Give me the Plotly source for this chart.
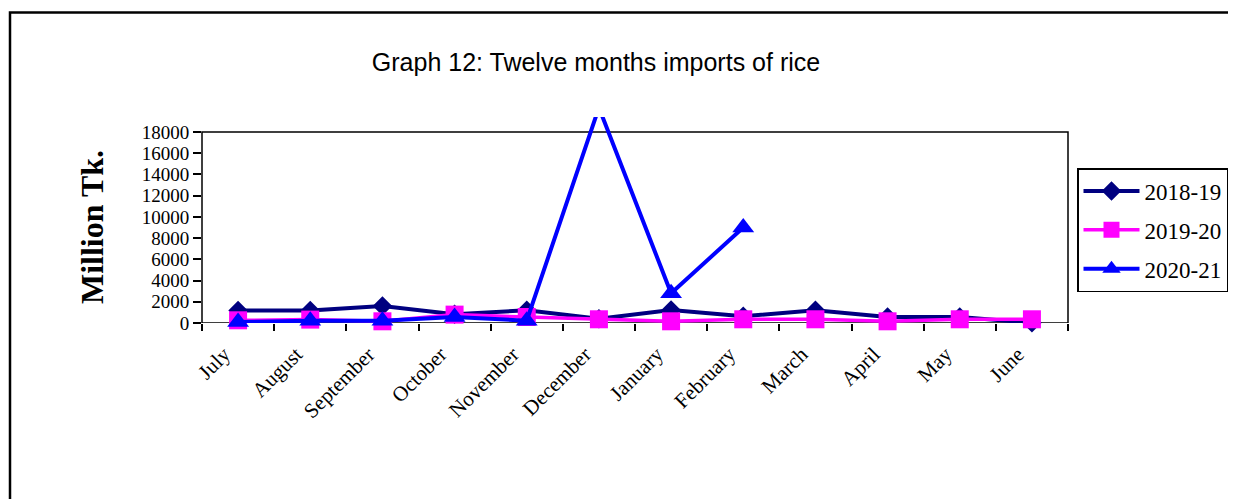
import plotly.graph_objects as go

months = ["July", "August", "September", "October", "November", "December",
          "January", "February", "March", "April", "May", "June"]
y2018_19 = [1170, 1170, 1600, 820, 1200, 410, 1220, 630, 1200, 570, 570, 20]
y2019_20 = [254, 320, 160, 790, 565, 350, 160, 350, 350, 160, 350, 350]
y2020_21 = [95, 220, 220, 565, 220, 20300, 2800, 9000, None, None, None, None]
yticks = [0, 2000, 4000, 6000, 8000, 10000, 12000, 14000, 16000, 18000]
ytick_text = ["0", "2000", "4000", "6000", "8000", "10000", "12000", "14000", "16000", "18000"]
series_names = ["2018-19", "2019-20", "2020-21"]

OFF = 8  # page body margin offset
W, H = 1236, 499
L, R, T, B = 202 - OFF, 168 + OFF, 117 - OFF, 176 + OFF
pw, ph = W - L - R, H - T - B
YMAX = 18000 * ph / 191.0

def px_x(x):
    return (x - OFF - L) / pw

def px_y(y):
    return (H - B - (y - OFF)) / ph

fig = go.Figure()
fig.add_trace(go.Scatter(
    x=months, y=y2018_19, name=series_names[0], mode="lines+markers",
    line=dict(color="#000080", width=4),
    marker=dict(symbol="diamond", size=15, color="#000080"),
    cliponaxis=False, legendgroup="a"))
fig.add_trace(go.Scatter(
    x=months, y=y2019_20, name=series_names[1], mode="lines+markers",
    line=dict(color="#FF00FF", width=3.5),
    marker=dict(symbol="square", size=18, color="#FF00FF"),
    cliponaxis=False, legendgroup="b"))
fig.add_trace(go.Scatter(
    x=months, y=y2020_21, name=series_names[2], mode="lines+markers",
    line=dict(color="#0000FF", width=4),
    marker=dict(symbol="triangle-up", size=19, color="#0000FF"),
    cliponaxis=False, legendgroup="c", connectgaps=False))

fig.update_layout(
    width=W, height=H,
    margin=dict(l=L, r=R, t=T, b=B, autoexpand=False),
    paper_bgcolor="white", plot_bgcolor="white",
    title=dict(text="Graph 12: Twelve months imports of rice",
               font=dict(family="Liberation Sans", size=25, color="black"),
               xref="paper", x=px_x(596), xanchor="center",
               yref="container", y=1 - (62 - OFF) / H, yanchor="middle"),
    xaxis=dict(type="category", range=[-0.5, len(months) - 0.5],
               tickson="boundaries", ticks="outside",
               ticklen=7, tickwidth=1.5, tickcolor="black",
               tickangle=-45, showgrid=False, zeroline=False, showline=False,
               tickfont=dict(family="Liberation Serif", size=21, color="black"),
               ticklabelstandoff=14, ticklabelshift=-14),
    yaxis=dict(range=[0, YMAX], tickvals=yticks, ticktext=ytick_text,
               ticks="outside", ticklen=8, tickwidth=1.5, tickcolor="black",
               showgrid=False, zeroline=False, showline=False,
               tickfont=dict(family="Liberation Serif", size=19, color="black")),
    legend=dict(x=px_x(1077), y=px_y(168), xanchor="left", yanchor="top",
                font=dict(family="Liberation Serif", size=23, color="black"),
                bordercolor="black", borderwidth=1.5, bgcolor="white",
                tracegroupgap=6, itemwidth=56),
    showlegend=True,
)

# plot area frame (0..18000)
fig.add_shape(type="rect", xref="paper", yref="y", x0=0, x1=1, y0=0, y1=18000,
              line=dict(color="black", width=1.5), layer="below")
# outer chart border
fig.add_shape(type="rect", xref="paper", yref="paper",
              x0=px_x(10), x1=px_x(W + 20), y0=px_y(H + 20), y1=px_y(12.5),
              line=dict(color="black", width=2.5), layer="below")

fig.add_annotation(text="<b>Million Tk.</b>", xref="paper", yref="paper",
                   x=px_x(92), y=px_y(227), textangle=-90, showarrow=False,
                   font=dict(family="Liberation Serif", size=32, color="black"),
                   xanchor="center", yanchor="middle")

fig.write_html("out.html")
